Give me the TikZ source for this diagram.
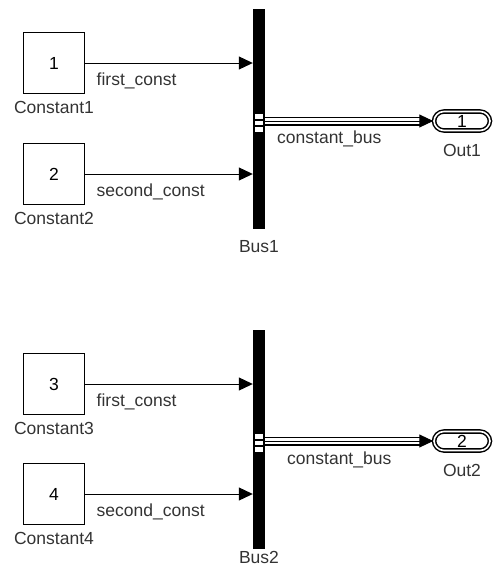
\documentclass[tikz,border=0pt]{standalone}
\usepackage{fontspec}
\setmainfont{Liberation Sans}
\usetikzlibrary{positioning,arrows.meta}

\begin{document}
\begin{tikzpicture}[
		x=1pt,y=-1pt,
		font=\fontsize{17.5}{20}\selectfont,
		const/.style={draw,line width=1.4pt,minimum size=61pt,inner sep=0pt},
		bus/.style={fill=black,minimum width=12pt,inner sep=0pt},
		port/.style={draw,line width=1.5pt,double,double distance=1.6pt,rounded corners=10pt,minimum width=56pt,minimum height=19pt,inner sep=0pt},
		lbl/.style={text=black!80,inner sep=1pt},
		sig/.style={anchor=north west,text=black!80,inner sep=0pt},
		ar/.style={-{Triangle[length=14pt,width=13pt]},line width=1pt}
		]
		\useasboundingbox (0,0) rectangle (496,571);

		% upper model
		\node[const] (c1) at (54,63) {1};
		\node[lbl,below=6pt of c1] (c1l) {Constant1};
		\node[const] (c2) at (54,174) {2};
		\node[lbl,below=6pt of c2] (c2l) {Constant2};
		\node[bus,minimum height=220pt] (b1) at (259,119) {};
		\node[lbl,below=10pt of b1] (b1l) {Bus1};
		\node[port] (o1) at (462,121) {1};
		\node[lbl,below=12pt of o1] (o1l) {Out1};

		\draw[ar] (c1) -- (c1 -| b1.west) node[sig] (s1) at (c1.east) [xshift=11pt,yshift=-9pt] {first\_const};
		\draw[ar] (c2) -- (c2 -| b1.west) node[sig] (s2) at (c2.east) [xshift=11pt,yshift=-9pt] {second\_const};
		\fill[white] (255,114) rectangle (263,132);
		\draw[line width=1.2pt] (255,120) -- (263,120) (255,126) -- (263,126);
		\coordinate (b1o) at (b1.east |- o1);
		\draw[line width=9pt,shorten >=13pt] (b1o) -- (o1.west);
		\draw[line width=6.6pt,white,shorten >=13pt] (b1o) -- (o1.west);
		\draw[ar] (b1o) -- (o1.west);
		\node[sig] (bs1) at (277,131) {constant\_bus};

		% lower model
		\node[const] (c3) at (54,384) {3};
		\node[lbl,below=6pt of c3] (c3l) {Constant3};
		\node[const] (c4) at (54,494) {4};
		\node[lbl,below=6pt of c4] (c4l) {Constant4};
		\node[bus,minimum height=219pt] (b2) at (259,439.5) {};
		\node[lbl,below=1pt of b2] (b2l) {Bus2};
		\node[port] (o2) at (462,441) {2};
		\node[lbl,below=12pt of o2] (o2l) {Out2};

		\draw[ar] (c3) -- (c3 -| b2.west) node[sig] (s3) at (c3.east) [xshift=11pt,yshift=-9pt] {first\_const};
		\draw[ar] (c4) -- (c4 -| b2.west) node[sig] (s4) at (c4.east) [xshift=11pt,yshift=-9pt] {second\_const};
		\fill[white] (255,434) rectangle (263,452);
		\draw[line width=1.2pt] (255,440) -- (263,440) (255,446) -- (263,446);
		\coordinate (b2o) at (b2.east |- o2);
		\draw[line width=9pt,shorten >=13pt] (b2o) -- (o2.west);
		\draw[line width=6.6pt,white,shorten >=13pt] (b2o) -- (o2.west);
		\draw[ar] (b2o) -- (o2.west);
		\node[sig] (bs2) at (287,452) {constant\_bus};

	\end{tikzpicture}
\end{document}
